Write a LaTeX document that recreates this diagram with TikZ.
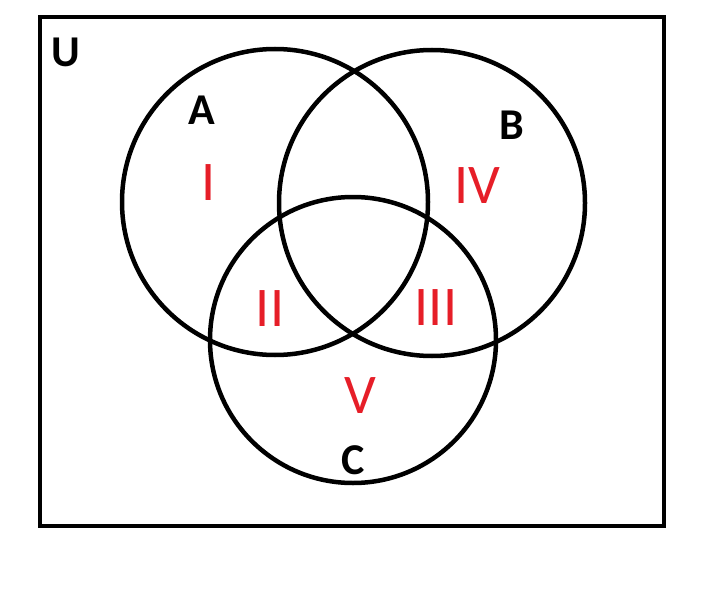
\documentclass[tikz,border=0pt]{standalone}
\usepackage{fontspec}
\setmainfont{Carlito}
\definecolor{regred}{RGB}{230,30,40}
\begin{document}
\begin{tikzpicture}[x=1pt,y=-1pt,
  ring/.style={draw=black,line width=4.5pt},
  setlbl/.style={font=\fontsize{44}{44}\selectfont\bfseries,text=black,inner sep=0pt},
  reglbl/.style={font=\fontsize{56}{56}\selectfont,text=regred,inner sep=0pt}]
\useasboundingbox (0,0) rectangle (712,607);
\draw[line width=4.5pt] (40,17) rectangle (664,526);
\draw[ring] (275,202) circle[radius=153];
\draw[ring] (432,203) circle[radius=153];
\draw[ring] (353,340) circle[radius=143];
\node[setlbl] (U) at (66,52) {U};
\node[setlbl] (A) at (202,110) {A};
\node[setlbl] (B) at (512,125) {B};
\node[setlbl] (C) at (353,460) {C};
\node[reglbl] (r1) at (209,183) {I};
\node[reglbl] (r4) at (477,186) {IV};
\node[reglbl] (r2) at (270,309) {II};
\node[reglbl] (r3) at (436,308) {III};
\node[reglbl] (r5) at (360,396) {V};
\end{tikzpicture}
\end{document}
